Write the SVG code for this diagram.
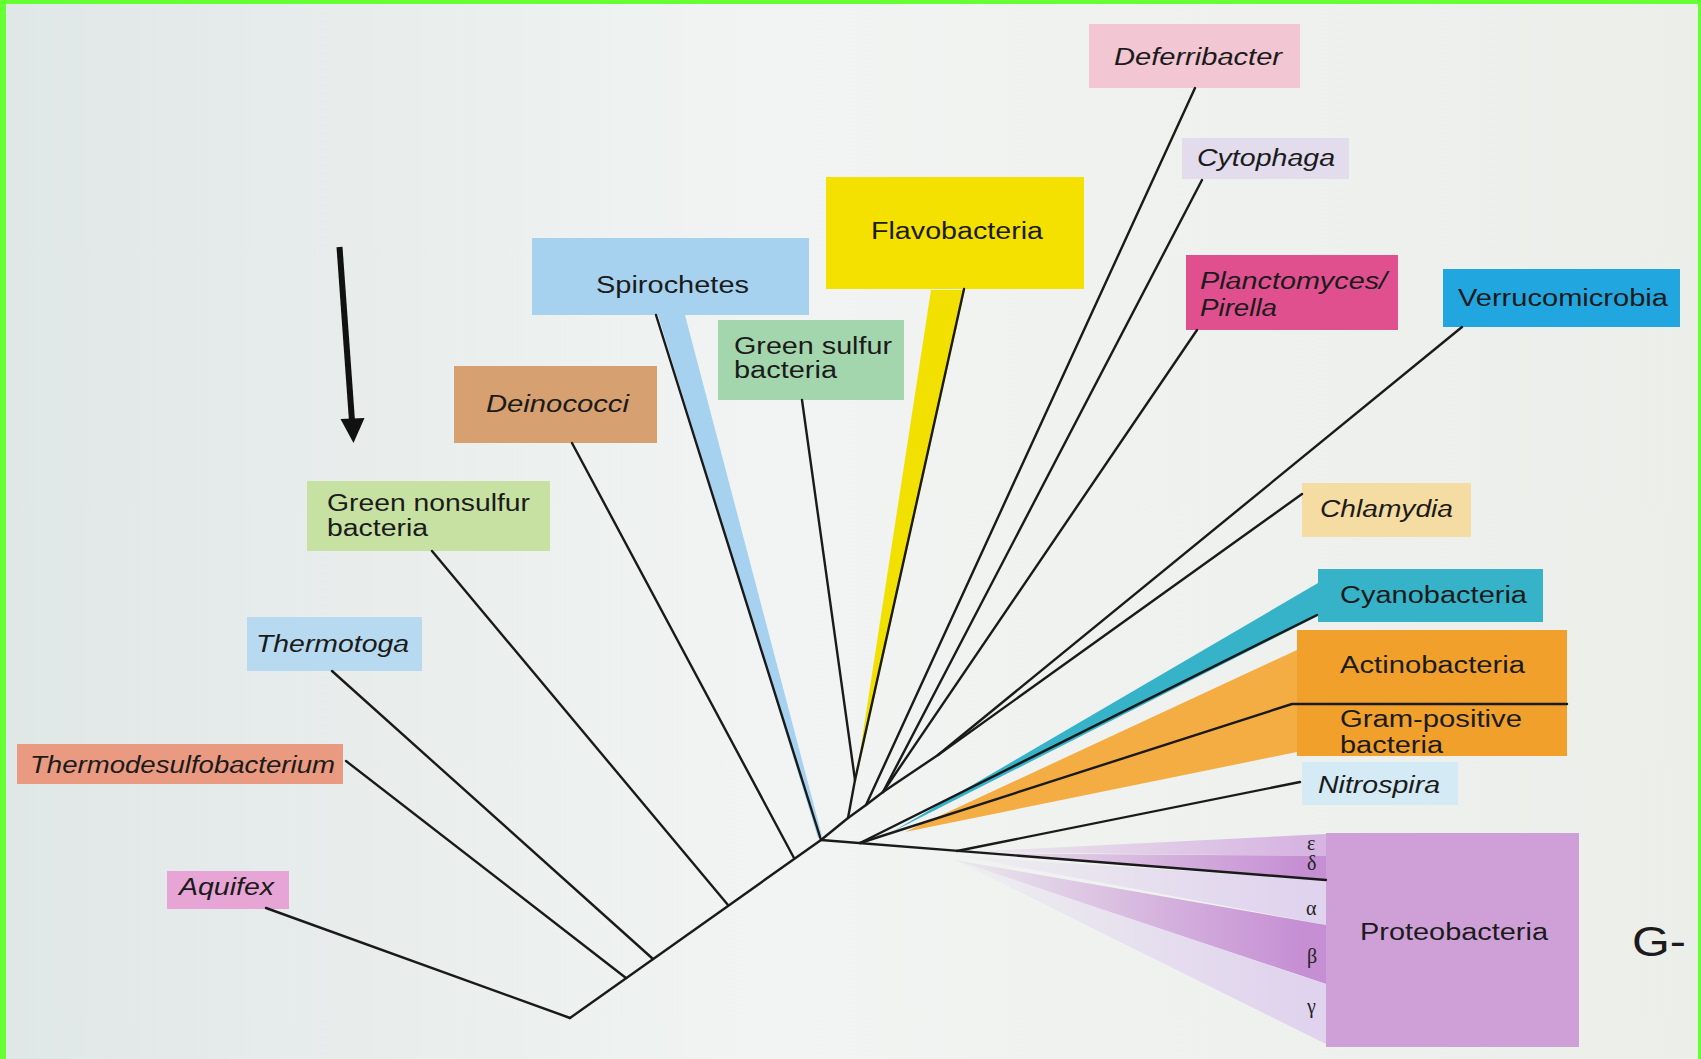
<svg xmlns="http://www.w3.org/2000/svg" width="1701" height="1059" viewBox="0 0 1701 1059">
<defs>
<linearGradient id="bg" x1="0" y1="0" x2="1" y2="0">
<stop offset="0" stop-color="#e0e7e7"/>
<stop offset="0.45" stop-color="#f1f4f2"/>
<stop offset="1" stop-color="#eceeea"/>
</linearGradient>
<linearGradient id="gEps" gradientUnits="userSpaceOnUse" x1="975" y1="0" x2="1300" y2="0">
<stop offset="0" stop-color="#d7b5e2" stop-opacity="0.15"/>
<stop offset="1" stop-color="#d7b5e2" stop-opacity="1"/>
</linearGradient>
<linearGradient id="gMed" gradientUnits="userSpaceOnUse" x1="975" y1="0" x2="1300" y2="0">
<stop offset="0" stop-color="#c68fd4" stop-opacity="0.15"/>
<stop offset="1" stop-color="#c68fd4" stop-opacity="1"/>
</linearGradient>
<linearGradient id="gPale" gradientUnits="userSpaceOnUse" x1="975" y1="0" x2="1300" y2="0">
<stop offset="0" stop-color="#e0d3ee" stop-opacity="0.15"/>
<stop offset="1" stop-color="#e0d3ee" stop-opacity="1"/>
</linearGradient>
<style>
.lbl{font-family:"Liberation Sans",Arial,sans-serif;font-size:23.5px;fill:#1b1b1b;}
.it{font-style:italic;}
.gk{font-family:"Liberation Serif","Times New Roman",serif;font-size:20px;fill:#222;}
.cn{stroke:#1a1a1a;stroke-width:2.4;fill:none;stroke-linejoin:round;stroke-linecap:round;}
</style>
</defs>

<rect x="0" y="0" width="1701" height="1059" fill="url(#bg)"/>
<rect x="0" y="0" width="1701" height="4" fill="#66ff33"/>
<rect x="0" y="0" width="6" height="1059" fill="#66ff33"/>
<rect x="1698" y="0" width="3" height="1059" fill="#66ff33"/>

<g id="wedges">
<polygon points="658,315 685,315 822,836 818,838" fill="#a6d2f0"/>
<polygon points="931,290 965,290 855,785" fill="#f2e000"/>
<polygon points="1318,583 1318,616 892,832" fill="#36b3c9"/>
<polygon points="1297,650 1297,752 905,832" fill="#f4ad42"/>
<polygon points="965,852 1326,834 1326,856" fill="url(#gEps)"/>
<polygon points="965,853 1326,856 1326,880" fill="url(#gMed)"/>
<polygon points="960,856 1326,880 1326,925" fill="url(#gPale)"/>
<polygon points="955,860 1326,925 1326,984" fill="url(#gMed)"/>
<polygon points="955,860 1326,984 1326,1044" fill="url(#gPale)"/>
</g>

<g id="node-deferribacter">
<rect x="1089" y="24" width="211" height="64" fill="#f2c6d2"/>
<text class="lbl it" x="1114" y="65" textLength="168" lengthAdjust="spacingAndGlyphs">Deferribacter</text>
</g>
<g id="node-cytophaga">
<rect x="1182" y="138" width="167" height="41" fill="#e2dcec"/>
<text class="lbl it" x="1197" y="166" textLength="138" lengthAdjust="spacingAndGlyphs">Cytophaga</text>
</g>
<g id="node-flavobacteria">
<rect x="826" y="177" width="258" height="112" fill="#f4e100"/>
<text class="lbl" x="871" y="239" textLength="172" lengthAdjust="spacingAndGlyphs">Flavobacteria</text>
</g>
<g id="node-planctomyces">
<rect x="1186" y="255" width="212" height="75" fill="#e0508f"/>
<text class="lbl it" x="1200" y="289" textLength="187" lengthAdjust="spacingAndGlyphs">Planctomyces/</text>
<text class="lbl it" x="1200" y="316" textLength="77" lengthAdjust="spacingAndGlyphs">Pirella</text>
</g>
<g id="node-verrucomicrobia">
<rect x="1443" y="269" width="237" height="58" fill="#22a6e0"/>
<text class="lbl" x="1458" y="306" textLength="210" lengthAdjust="spacingAndGlyphs">Verrucomicrobia</text>
</g>
<g id="node-spirochetes">
<rect x="532" y="238" width="277" height="77" fill="#a6d2f0"/>
<text class="lbl" x="596" y="293" textLength="153" lengthAdjust="spacingAndGlyphs">Spirochetes</text>
</g>
<g id="node-green-sulfur">
<rect x="718" y="320" width="186" height="80" fill="#a4d6ae"/>
<text class="lbl" x="734" y="354" textLength="158" lengthAdjust="spacingAndGlyphs">Green sulfur</text>
<text class="lbl" x="734" y="378" textLength="103" lengthAdjust="spacingAndGlyphs">bacteria</text>
</g>
<g id="node-deinococci">
<rect x="454" y="366" width="203" height="77" fill="#d7a070"/>
<text class="lbl it" x="486" y="412" textLength="143" lengthAdjust="spacingAndGlyphs">Deinococci</text>
</g>
<g id="node-green-nonsulfur">
<rect x="307" y="481" width="243" height="70" fill="#c7e1a2"/>
<text class="lbl" x="327" y="511" textLength="203" lengthAdjust="spacingAndGlyphs">Green nonsulfur</text>
<text class="lbl" x="327" y="536" textLength="101" lengthAdjust="spacingAndGlyphs">bacteria</text>
</g>
<g id="node-thermotoga">
<rect x="247" y="617" width="175" height="54" fill="#b7daf0"/>
<text class="lbl it" x="256" y="652" textLength="153" lengthAdjust="spacingAndGlyphs">Thermotoga</text>
</g>
<g id="node-thermodesulfobacterium">
<rect x="17" y="744" width="326" height="40" fill="#e99a80"/>
<text class="lbl it" x="30" y="773" textLength="305" lengthAdjust="spacingAndGlyphs">Thermodesulfobacterium</text>
</g>
<g id="node-aquifex">
<rect x="167" y="871" width="122" height="38" fill="#e7a5d5"/>
<text class="lbl it" x="179" y="895" textLength="95" lengthAdjust="spacingAndGlyphs">Aquifex</text>
</g>
<g id="node-chlamydia">
<rect x="1302" y="483" width="169" height="54" fill="#f4dca2"/>
<text class="lbl it" x="1320" y="517" textLength="133" lengthAdjust="spacingAndGlyphs">Chlamydia</text>
</g>
<g id="node-cyanobacteria">
<rect x="1318" y="569" width="225" height="53" fill="#36b3c9"/>
<text class="lbl" x="1340" y="603" textLength="187" lengthAdjust="spacingAndGlyphs">Cyanobacteria</text>
</g>
<g id="node-actino-grampos">
<rect x="1297" y="630" width="270" height="126" fill="#f2a02c"/>
<text class="lbl" x="1340" y="673" textLength="185" lengthAdjust="spacingAndGlyphs">Actinobacteria</text>
<text class="lbl" x="1340" y="727" textLength="182" lengthAdjust="spacingAndGlyphs">Gram-positive</text>
<text class="lbl" x="1340" y="753" textLength="103" lengthAdjust="spacingAndGlyphs">bacteria</text>
</g>
<g id="node-nitrospira">
<rect x="1302" y="762" width="156" height="43" fill="#d4eaf4"/>
<text class="lbl it" x="1318" y="793" textLength="122" lengthAdjust="spacingAndGlyphs">Nitrospira</text>
</g>
<g id="node-proteobacteria">
<rect x="1326" y="833" width="253" height="214" fill="#cfa0d8"/>
<text class="lbl" x="1360" y="940" textLength="188" lengthAdjust="spacingAndGlyphs">Proteobacteria</text>
<text class="gk" x="1307" y="850">ε</text>
<text class="gk" x="1307" y="870">δ</text>
<text class="gk" x="1306" y="915">α</text>
<text class="gk" x="1307" y="963">β</text>
<text class="gk" x="1307" y="1013">γ</text>
</g>
<g id="label-gneg">
<text class="lbl" x="1632" y="956" style="font-size:42px" textLength="54" lengthAdjust="spacingAndGlyphs">G-</text>
</g>

<g id="connectors">
<polyline class="cn" points="570,1018 821,840 848,818 866,805 883,792"/>
<line class="cn" x1="266" y1="908" x2="570" y2="1018"/>
<line class="cn" x1="346" y1="761" x2="626" y2="978"/>
<line class="cn" x1="332" y1="671" x2="653" y2="959"/>
<line class="cn" x1="432" y1="551" x2="728" y2="905"/>
<line class="cn" x1="572" y1="443" x2="794" y2="858"/>
<line class="cn" x1="656" y1="315" x2="821" y2="840"/>
<polyline class="cn" points="802,400 855,780 848,818"/>
<line class="cn" x1="964" y1="289" x2="855" y2="780"/>
<line class="cn" x1="1195" y1="88" x2="866" y2="805"/>
<line class="cn" x1="1202" y1="180" x2="883" y2="792"/>
<line class="cn" x1="1197" y1="330" x2="883" y2="792"/>
<polyline class="cn" points="1462,327 938,755 883,792"/>
<line class="cn" x1="1302" y1="494" x2="938" y2="755"/>
<line class="cn" x1="821" y1="840" x2="1326" y2="880"/>
<line class="cn" x1="860" y1="843" x2="1317" y2="615"/>
<polyline class="cn" points="860,843 1292,704 1567,704"/>
<line class="cn" x1="957" y1="851" x2="1300" y2="782"/>
<line x1="339.5" y1="247" x2="352" y2="421" stroke="#111" stroke-width="6"/>
<polygon points="353.5,443 340.5,419 364.5,418" fill="#111"/>
</g>
</svg>
